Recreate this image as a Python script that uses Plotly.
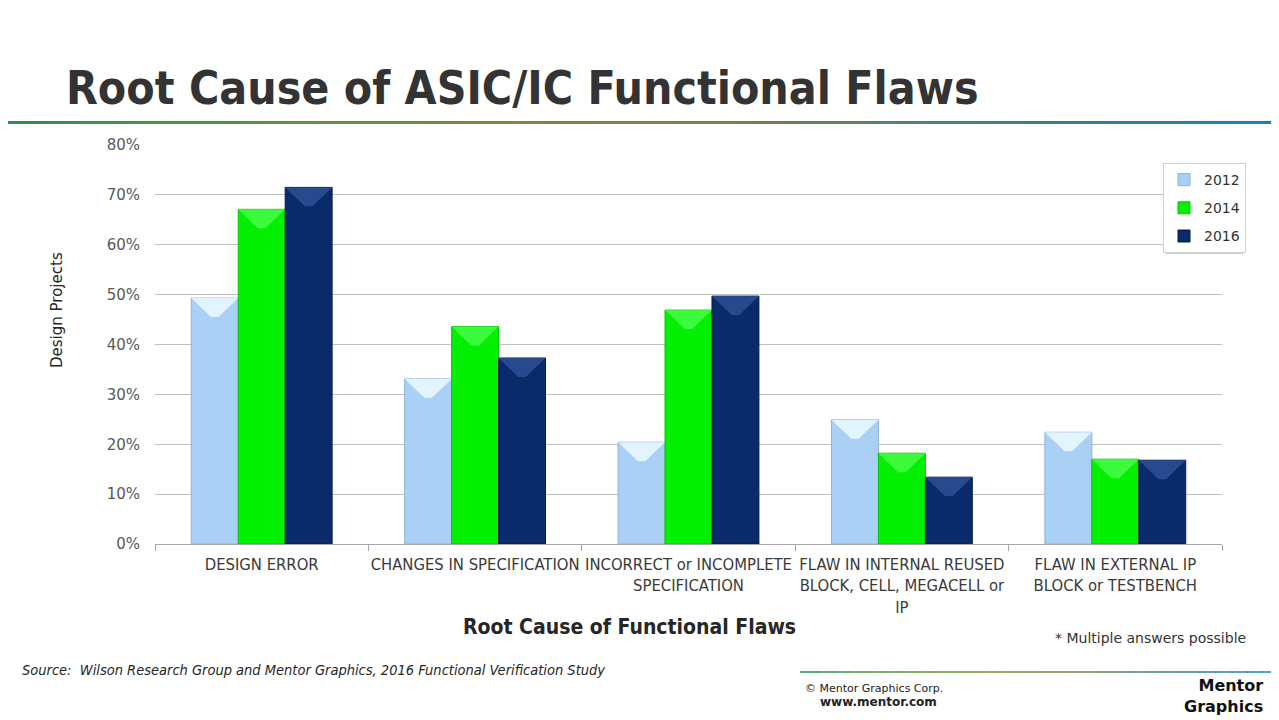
import plotly.graph_objects as go

# ---- data ----
categories = [
    "DESIGN ERROR",
    "CHANGES IN SPECIFICATION",
    "INCORRECT or INCOMPLETE<br>SPECIFICATION",
    "FLAW IN INTERNAL REUSED<br>BLOCK, CELL, MEGACELL or<br>IP",
    "FLAW IN EXTERNAL IP<br>BLOCK or TESTBENCH",
]
series_names = ["2012", "2014", "2016"]
values_2012 = [0.493, 0.331, 0.204, 0.249, 0.224]
values_2014 = [0.671, 0.436, 0.469, 0.182, 0.170]
values_2016 = [0.715, 0.373, 0.497, 0.134, 0.168]
y_tick_values = [0, 0.1, 0.2, 0.3, 0.4, 0.5, 0.6, 0.7, 0.8]

# ---- styles ----
body_colors = ["#ABD0F6", "#03F003", "#0A2A6A"]
edge_colors = ["#8FB3DA", "#00C800", "#061E52"]
bevel_colors = ["rgba(235,250,255,0.85)", "rgba(80,255,80,0.75)", "rgba(50,85,155,0.75)"]

NARROW = "Liberation Sans Narrow, DejaVu Sans Condensed, Arial Narrow, sans-serif"
SANS = "DejaVu Sans, Verdana, sans-serif"

# page has an 8px body margin; figure is sized so the plot area lands on the reference pixels
OFF = 8
W, H = 1279 - OFF, 720 - OFF
PL, PR, PT, PB = 155, 1222, 145, 544   # plot area in page pixels
PW, PH = PR - PL, PB - PT


def px_x(x):
    return (x - PL) / PW


def px_y(y):
    return (PB - y) / PH


bargap = 0.34
bar_w = (1 - bargap) / 3
offsets = [-(1 - bargap) / 2 + i * bar_w for i in range(3)]
xs = list(range(len(categories)))

fig = go.Figure()
all_values = [values_2012, values_2014, values_2016]
for i, (name, vals) in enumerate(zip(series_names, all_values)):
    fig.add_trace(go.Bar(
        x=xs, y=vals, name=name,
        width=bar_w, offset=offsets[i],
        marker=dict(color=body_colors[i], line=dict(color=edge_colors[i], width=1)),
        legendgroup=name, hoverinfo="y",
    ))

# bevel highlight at the top of each bar (derived from the data values)
depth = 0.038
for i, vals in enumerate(all_values):
    bx, by = [], []
    for j, v in enumerate(vals):
        left = xs[j] + offsets[i]
        right = left + bar_w
        inset = bar_w * 0.42
        bx += [left, right, right - inset, left + inset, left, None]
        by += [v, v, v - depth, v - depth, v, None]
    fig.add_trace(go.Scatter(
        x=bx, y=by, mode="lines", fill="toself",
        fillcolor=bevel_colors[i], line=dict(width=0),
        showlegend=False, hoverinfo="skip",
    ))

fig.update_layout(
    width=W, height=H,
    margin=dict(l=PL - OFF, r=W - (PR - OFF), t=PT - OFF, b=H - (PB - OFF)),
    paper_bgcolor="white", plot_bgcolor="white",
    barmode="overlay",
    showlegend=True,
    legend=dict(
        x=px_x(1163), y=px_y(163), xanchor="left", yanchor="top",
        bgcolor="white", bordercolor="#D0D0D0", borderwidth=1,
        font=dict(family=SANS, size=14, color="#333333"),
        tracegroupgap=7, itemwidth=30,
    ),
    xaxis=dict(
        range=[-0.5, len(categories) - 0.5],
        tickmode="array", tickvals=xs, ticktext=categories,
        ticks="", showline=True, linecolor="#A6A6A6", linewidth=1,
        showgrid=False, zeroline=False,
        ticklabelstandoff=5,
        tickfont=dict(family=NARROW, size=16.5, color="#3A3A3A"),
        minor=dict(tick0=-0.5, dtick=1, ticks="outside", ticklen=6,
                   tickcolor="#A6A6A6", showgrid=False),
        fixedrange=True,
    ),
    yaxis=dict(
        range=[0, 0.8], tickmode="array", tickvals=y_tick_values,
        tickformat=".0%", showgrid=True, gridcolor="#BFBFBF", gridwidth=1,
        zeroline=False, showline=False, ticks="",
        ticklabelstandoff=14,
        tickfont=dict(family=SANS, size=15, color="#595959"),
        fixedrange=True,
    ),
)

# legend shadow
fig.add_shape(type="rect", xref="paper", yref="paper",
              x0=px_x(1166), x1=px_x(1243), y0=px_y(254), y1=px_y(166),
              fillcolor="rgba(0,0,0,0.18)", line=dict(width=0), layer="below")

# Title
fig.add_annotation(text="<b>Root Cause of ASIC/IC Functional Flaws</b>",
                   xref="paper", yref="paper", x=px_x(64), y=px_y(88),
                   xanchor="left", yanchor="middle", showarrow=False,
                   font=dict(family=NARROW, size=46, color="#333333"))

# header gradient line
grad = [(0.00, (46, 139, 90)), (0.15, (80, 146, 66)), (0.40, (120, 140, 58)),
        (0.60, (110, 130, 80)), (0.80, (62, 128, 130)), (1.00, (26, 128, 184))]


def interp(t, stops):
    for (t0, c0), (t1, c1) in zip(stops[:-1], stops[1:]):
        if t0 <= t <= t1:
            f = (t - t0) / (t1 - t0) if t1 > t0 else 0
            return "rgb(%d,%d,%d)" % tuple(round(a + (b - a) * f) for a, b in zip(c0, c1))
    return "rgb(%d,%d,%d)" % stops[-1][1]


N = 80
for k in range(N):
    t0, t1 = k / N, (k + 1) / N
    fig.add_shape(type="line", xref="paper", yref="paper",
                  x0=px_x(t0 * 1279), x1=px_x(t1 * 1279 + 1),
                  y0=px_y(122.5), y1=px_y(122.5),
                  line=dict(color=interp((t0 + t1) / 2, grad), width=3))

# footer gradient line
M = 30
for k in range(M):
    t0, t1 = k / M, (k + 1) / M
    fig.add_shape(type="line", xref="paper", yref="paper",
                  x0=px_x(800 + t0 * 479), x1=px_x(800 + t1 * 479 + 1),
                  y0=px_y(672), y1=px_y(672),
                  line=dict(color=interp((t0 + t1) / 2, grad), width=1.5))

# y-axis title
fig.add_annotation(text="Design Projects", textangle=-90,
                   xref="paper", yref="paper", x=px_x(57), y=px_y(310),
                   xanchor="center", yanchor="middle", showarrow=False,
                   font=dict(family=SANS, size=15, color="#262626"))

# x-axis title
fig.add_annotation(text="<b>Root Cause of Functional Flaws</b>",
                   xref="paper", yref="paper", x=px_x(629), y=px_y(627),
                   xanchor="center", yanchor="middle", showarrow=False,
                   font=dict(family=NARROW, size=21, color="#262626"))

# note
fig.add_annotation(text="* Multiple answers possible",
                   xref="paper", yref="paper", x=px_x(1248), y=px_y(638),
                   xanchor="right", yanchor="middle", showarrow=False,
                   font=dict(family=SANS, size=14, color="#333333"))

# source
fig.add_annotation(text="<i>Source:  Wilson Research Group and Mentor Graphics, 2016 Functional Verification Study</i>",
                   xref="paper", yref="paper", x=px_x(20), y=px_y(670),
                   xanchor="left", yanchor="middle", showarrow=False,
                   font=dict(family=NARROW, size=14.5, color="#262626"))

# footer texts
fig.add_annotation(text="© Mentor Graphics Corp.",
                   xref="paper", yref="paper", x=px_x(803), y=px_y(688),
                   xanchor="left", yanchor="middle", showarrow=False,
                   font=dict(family=SANS, size=11, color="#222222"))
fig.add_annotation(text="<b>www.mentor.com</b>",
                   xref="paper", yref="paper", x=px_x(818), y=px_y(702),
                   xanchor="left", yanchor="middle", showarrow=False,
                   font=dict(family=SANS, size=12, color="#222222"))
fig.add_annotation(text="<b>Mentor<br>Graphics</b>",
                   xref="paper", yref="paper", x=px_x(1265), y=px_y(696),
                   xanchor="right", yanchor="middle", showarrow=False, align="right",
                   font=dict(family=SANS, size=16, color="#111111"))

fig.write_html("out.html")
